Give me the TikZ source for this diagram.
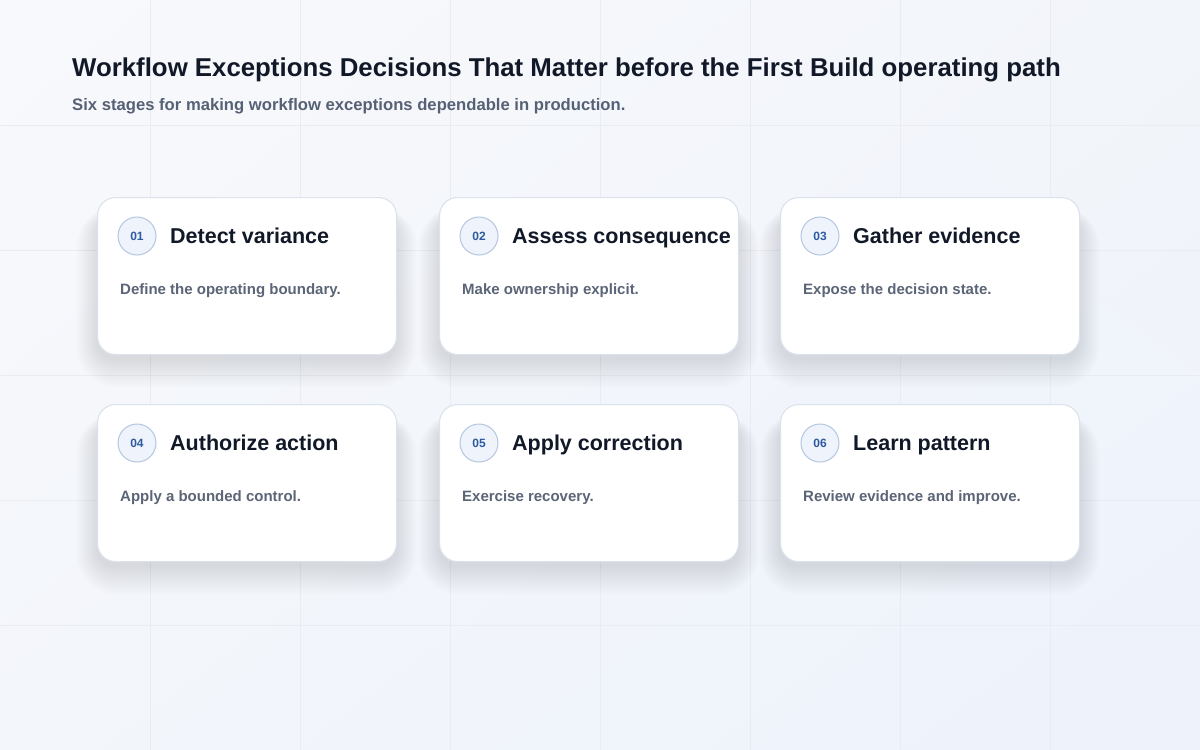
\documentclass[tikz,border=0pt]{standalone}
\usepackage{fontspec}
\setmainfont{Liberation Sans}
\usetikzlibrary{calc,shadings}
\definecolor{bgTL}{HTML}{F8F9FC}
\definecolor{bgTR}{HTML}{F2F5FA}
\definecolor{bgBL}{HTML}{F3F6FB}
\definecolor{bgBR}{HTML}{EDF2FB}
\definecolor{gridc}{HTML}{E9EDF3}
\definecolor{titlec}{HTML}{111827}
\definecolor{subc}{HTML}{566175}
\definecolor{descc}{HTML}{5B6577}
\definecolor{cardline}{HTML}{DCE2EC}
\definecolor{circfill}{HTML}{EEF3FC}
\definecolor{circline}{HTML}{B5C6E0}
\definecolor{numc}{HTML}{2E5AA0}
\definecolor{shadowc}{HTML}{56628A}
\tikzset{
  cardbox/.style={draw=cardline, line width=1.1pt, fill=white, rounded corners=18pt,
    minimum width=299pt, minimum height=157pt, anchor=north west, inner sep=0pt},
  numcirc/.style={circle, draw=circline, line width=1pt, fill=circfill, minimum size=38pt,
    inner sep=0pt, font=\fontsize{12}{14}\selectfont\bfseries, text=numc},
  cardtitle/.style={anchor=base west, inner sep=0pt, font=\fontsize{21.5}{24}\selectfont\bfseries, text=titlec},
  carddesc/.style={anchor=base west, inner sep=0pt, font=\fontsize{15}{18}\selectfont\bfseries, text=descc},
}
\newcommand\stagecard[6]{%
  \foreach \s in {0,1,...,28}{
    \fill[shadowc, opacity=0.0055, rounded corners=18pt+0.8*\s pt]
      (#2-0.75*\s, #3+18-0.3*\s) rectangle (#2+299+0.75*\s, #3+157+6+\s);
  }
  \node[cardbox] (c#1) at (#2,#3) {};
  \node[numcirc] (n#1) at (#2+40,#3+39) {#4};
  \node[cardtitle] (t#1) at (#2+73,#3+46.5) {#5};
  \node[carddesc] (d#1) at (#2+23,#3+97) {#6};
}
\begin{document}
\begin{tikzpicture}[x=1pt,y=-1pt]
\useasboundingbox (0,0) rectangle (1200,750);
\shade[upper left=bgTL, upper right=bgTR, lower left=bgBL, lower right=bgBR] (0,0) rectangle (1200,750);
\foreach \gx in {150,300,...,1050} \draw[gridc, line width=0.6pt] (\gx,0) -- (\gx,750);
\foreach \gy in {125,250,...,625} \draw[gridc, line width=0.6pt] (0,\gy) -- (1200,\gy);
\node[anchor=base west, inner sep=0pt, font=\fontsize{25.8}{30}\selectfont\bfseries, text=titlec] (title) at (72,76.5)
  {Workflow Exceptions Decisions That Matter before the First Build operating path};
\node[anchor=base west, inner sep=0pt, font=\fontsize{16.65}{20}\selectfont\bfseries, text=subc] (subtitle) at (72,110)
  {Six stages for making workflow exceptions dependable in production.};
\stagecard{1}{97}{197}{01}{Detect variance}{Define the operating boundary.}
\stagecard{2}{439}{197}{02}{Assess consequence}{Make ownership explicit.}
\stagecard{3}{780}{197}{03}{Gather evidence}{Expose the decision state.}
\stagecard{4}{97}{404}{04}{Authorize action}{Apply a bounded control.}
\stagecard{5}{439}{404}{05}{Apply correction}{Exercise recovery.}
\stagecard{6}{780}{404}{06}{Learn pattern}{Review evidence and improve.}
\end{tikzpicture}
\end{document}
